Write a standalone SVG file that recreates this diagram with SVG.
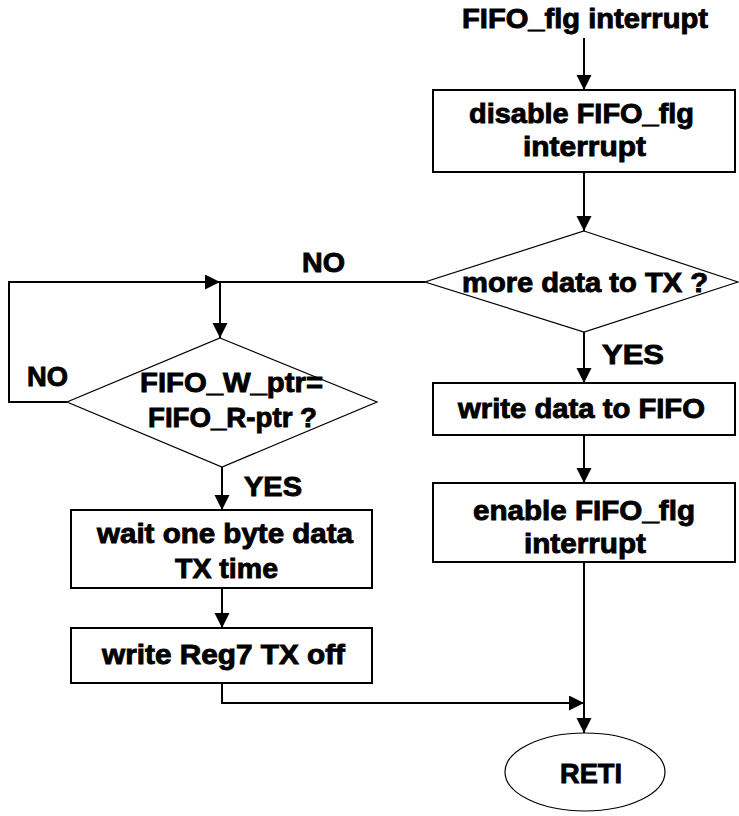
<svg xmlns="http://www.w3.org/2000/svg" width="739" height="816" viewBox="0 0 739 816">
  <style>
    .box { fill: #fff; stroke: #000; stroke-width: 2; }
    .dia { fill: #fff; stroke: #000; stroke-width: 1.2; }
    .term { fill: #fff; stroke: #000; stroke-width: 1.2; }
    .line { fill: none; stroke: #000; stroke-width: 2; }
    .arrow { fill: none; stroke: #000; stroke-width: 2; marker-end: url(#head); }
    text { font-family: "Liberation Sans", Arial, sans-serif; font-weight: bold; font-size: 28px; fill: #000; stroke: #000; stroke-width: 0.9; }
  </style>
  <defs>
    <marker id="head" markerUnits="userSpaceOnUse" markerWidth="16" markerHeight="16" refX="15" refY="7.5" orient="auto">
      <path d="M0,0 L15,7.5 L0,15 Z" fill="#000"/>
    </marker>
  </defs>

  <!-- connectors -->
  <g id="connectors">
    <line class="arrow" x1="584" y1="38" x2="584" y2="90"/>
    <line class="arrow" x1="584" y1="172" x2="584" y2="231"/>
    <line class="arrow" x1="584" y1="332" x2="584" y2="383"/>
    <line class="arrow" x1="584" y1="435" x2="584" y2="483"/>
    <line class="arrow" x1="584" y1="562" x2="584" y2="733"/>
    <!-- NO branch from the TX check -->
    <polyline class="line" points="425,282 220,282"/>
    <line class="arrow" x1="220" y1="282" x2="220" y2="338"/>
    <!-- NO loop around the pointer check -->
    <polyline class="arrow" points="67,402 9,402 9,282 220,282"/>
    <line class="arrow" x1="222" y1="467" x2="222" y2="510"/>
    <line class="arrow" x1="222" y1="588" x2="222" y2="628"/>
    <polyline class="arrow" points="222,683 222,703 584,703"/>
  </g>

  <text id="start" x="462" y="28" textLength="246" lengthAdjust="spacingAndGlyphs">FIFO_flg interrupt</text>

  <g id="disable">
    <rect class="box" x="433" y="90" width="302" height="82"/>
    <text x="469" y="123" textLength="225" lengthAdjust="spacingAndGlyphs">disable FIFO_flg</text>
    <text x="523" y="156" textLength="123" lengthAdjust="spacingAndGlyphs">interrupt</text>
  </g>

  <g id="more-data">
    <polygon class="dia" points="584,231 738,282 584,332 425,282"/>
    <text x="462" y="292" textLength="246" lengthAdjust="spacingAndGlyphs">more data to TX ?</text>
  </g>

  <text id="yes-right" x="602" y="364" textLength="62" lengthAdjust="spacingAndGlyphs">YES</text>
  <text id="no-top" x="302" y="272" textLength="43" lengthAdjust="spacingAndGlyphs">NO</text>

  <g id="write-data">
    <rect class="box" x="433" y="383" width="302" height="52"/>
    <text x="458" y="418" textLength="247" lengthAdjust="spacingAndGlyphs">write data to FIFO</text>
  </g>

  <g id="enable">
    <rect class="box" x="433" y="483" width="302" height="79"/>
    <text x="473" y="520" textLength="222" lengthAdjust="spacingAndGlyphs">enable FIFO_flg</text>
    <text x="524" y="553" textLength="122" lengthAdjust="spacingAndGlyphs">interrupt</text>
  </g>

  <g id="ptr-check">
    <polygon class="dia" points="220,338 377,402 222,467 67,402"/>
    <text x="140" y="392" textLength="183" lengthAdjust="spacingAndGlyphs">FIFO_W_ptr=</text>
    <text x="148" y="427" textLength="169" lengthAdjust="spacingAndGlyphs">FIFO_R-ptr ?</text>
  </g>

  <text id="no-left" x="27" y="386" textLength="41" lengthAdjust="spacingAndGlyphs">NO</text>
  <text id="yes-left" x="244" y="496" textLength="58" lengthAdjust="spacingAndGlyphs">YES</text>

  <g id="wait">
    <rect class="box" x="71" y="510" width="301" height="78"/>
    <text x="97" y="543" textLength="256" lengthAdjust="spacingAndGlyphs">wait one byte data</text>
    <text x="175" y="578" textLength="103" lengthAdjust="spacingAndGlyphs">TX time</text>
  </g>

  <g id="tx-off">
    <rect class="box" x="71" y="628" width="301" height="55"/>
    <text x="102" y="664" textLength="243" lengthAdjust="spacingAndGlyphs">write Reg7 TX off</text>
  </g>

  <g id="reti">
    <ellipse class="term" cx="585" cy="772" rx="80" ry="39"/>
    <text x="560" y="783" textLength="62" lengthAdjust="spacingAndGlyphs">RETI</text>
  </g>
</svg>
